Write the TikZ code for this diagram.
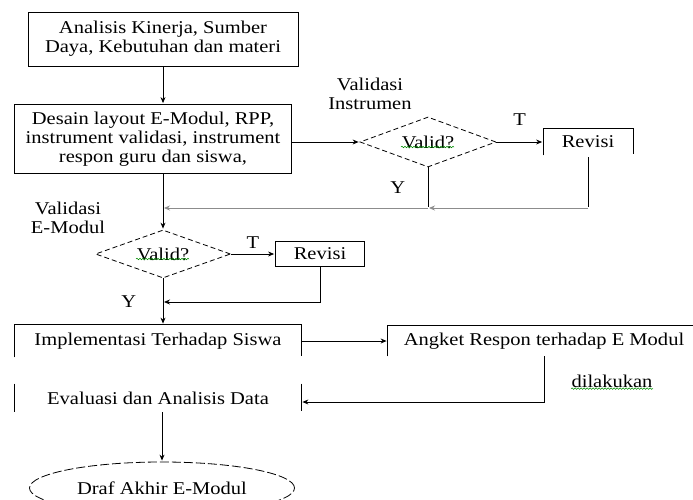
\documentclass[tikz,border=0pt]{standalone}
\usepackage{fontspec}
\setmainfont{Liberation Serif}[FakeStretch=1.14]
\usetikzlibrary{shapes.geometric, positioning, arrows.meta, decorations.pathmorphing}

\begin{document}
\begin{tikzpicture}[x = 1pt, y = -1pt, on grid, shorten >= 1pt, line width = 0.8pt,
    >= {Stealth[length = 6pt, width = 5pt]},
    every node/.style = {font = \fontsize{18}{19}\selectfont, align = center},
    box/.style = {rectangle, inner sep = 0pt},
    cek/.style = {diamond, draw, dash pattern = on 5pt off 3pt, aspect = 2.7, inner sep = 0pt},
    akhir/.style = {ellipse, draw, dash pattern = on 9pt off 3pt, inner sep = 0pt},
    spell/.style = {draw = green!55!black, line width = 0.5pt, decorate,
                    decoration = {snake, amplitude = 0.8pt, segment length = 3pt}},
    back/.style = {draw = black!45}]

  \useasboundingbox (0,0) rectangle (693,500);

  \node[box, draw, minimum width = 270pt, minimum height = 54pt] (ana) at (163,39) {Analisis Kinerja, Sumber\\Daya, Kebutuhan dan materi};
  \node[box, draw, minimum width = 277pt, minimum height = 69pt] (des) [below left = 100pt and 10pt of ana] {Desain layout E-Modul, RPP,\\instrument validasi, instrument\\respon guru dan siswa,};
  \node[cek, minimum width = 136pt, minimum height = 50pt] (v1) [below right = 3pt and 275pt of des] {Valid?};
  \node[box, minimum width = 89pt, minimum height = 26pt] (rev1) [right = 160pt of v1] {Revisi};
  \node[cek, minimum width = 135pt, minimum height = 48pt] (v2) [below right = 115pt and 10pt of des] {Valid?};
  \node[box, draw, minimum width = 89pt, minimum height = 25pt] (rev2) [right = 157pt of v2] {Revisi};
  \node[box, minimum width = 286pt, minimum height = 32pt] (imp) [below left = 87pt and 5pt of v2] {Implementasi Terhadap Siswa};
  \node[box, minimum width = 312pt, minimum height = 30pt] (ang) [right = 386pt of imp] {Angket Respon terhadap E Modul};
  \node[box, minimum width = 286pt, minimum height = 28pt] (eva) [below = 57pt of imp] {Evaluasi dan Analisis Data};
  \node[akhir, minimum width = 265pt, minimum height = 52pt] (draf) [below right = 90pt and 4pt of eva] {Draf Akhir E-Modul};

  \node (lv1) at (370,94) {Validasi\\Instrumen};
  \node (lv2) at (68,218) {Validasi\\E-Modul};
  \node[inner sep = 0pt] (dil) at (612,381) {dilakukan};

  % open frames
  \draw (rev1.south west) -- (rev1.north west) -- (rev1.north east) -- (rev1.south east);
  \draw (imp.south west) -- (imp.north west) -- (imp.north east) -- (imp.south east);
  \draw (ang.south west) -- (ang.north west) -- (ang.north east);
  \draw (eva.north west) -- (eva.south west) (eva.north east) -- (eva.south east);

  \coordinate (j1) at (v1.south |- 0,208);
  \coordinate (j2) at (ana.south |- j1);
  \coordinate (j3) at (ana.south |- 0,302);

  \draw[->] (ana.south) -- (ana.south |- des.north);
  \draw[->] (des.east |- v1.west) -- (v1.west);
  \draw[->] (v1.east) -- node[above = 13pt] (t1) {T} (rev1.west);
  \draw ([yshift = -2pt]rev1.south) -- (rev1.south |- j1);
  \draw[->, back] (rev1.south |- j1) -- (j1);
  \draw (v1.south) -- node[left = 19pt] (y1) {Y} (j1);
  \draw[->, back] (j1) -- (j2);
  \draw[->] (ana.south |- des.south) -- (v2.north);
  \draw[->] (v2.east) -- node[above = 2pt] (t2) {T} (rev2.west);
  \draw[->] (rev2.south) |- (j3);
  \draw[->] (v2.south) -- node[left = 23pt] (y2) {Y} (v2.south |- imp.north);
  \draw[->] (imp.east) -- (imp.east -| ang.west);
  \draw[->] (ang.south) |- ([yshift = -4pt]eva.east);
  \draw[->] (eva.south -| draf.north) -- (draf.north);

  % spell check marks
  \draw[spell] ([shift = {(-27pt,-5pt)}]v1.center) -- ++(54,0);
  \draw[spell] ([shift = {(-27pt,-5pt)}]v2.center) -- ++(54,0);
  \draw[spell] ([yshift = -1.5pt]dil.base west) -- ([yshift = -1.5pt]dil.base east);
\end{tikzpicture}
\end{document}
